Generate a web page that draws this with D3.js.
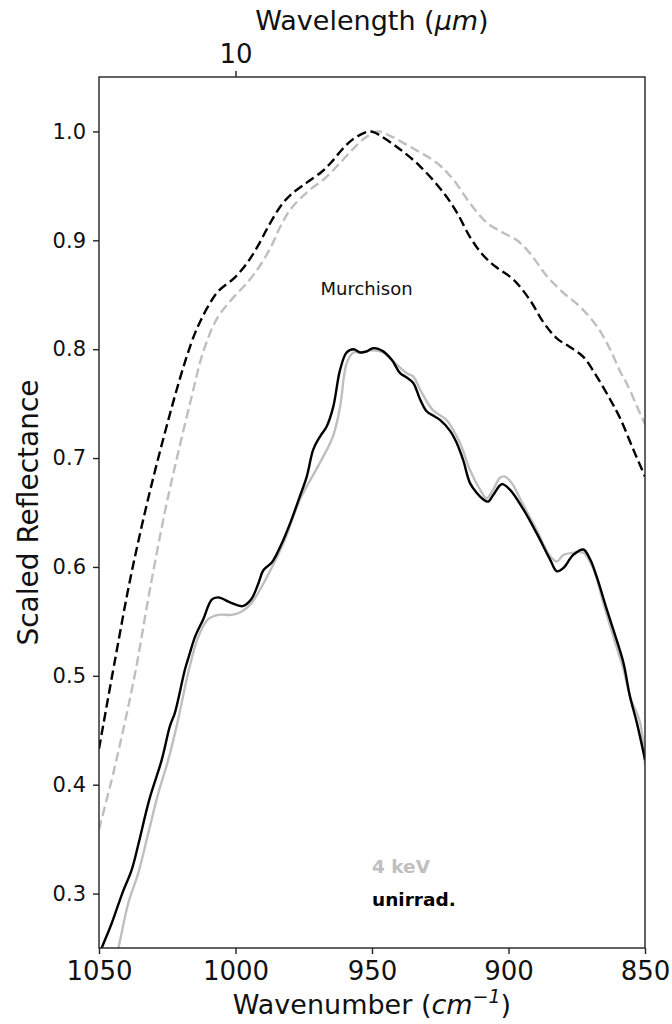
<!DOCTYPE html>
<html>
<head>
<meta charset="utf-8">
<script src="https://cdn.jsdelivr.net/npm/d3@7"></script>
<style>
  html, body { margin: 0; padding: 0; background: #fff; }
  svg { display: block; font-family: "DejaVu Sans", sans-serif; }
</style>
</head>
<body>
<svg id="chart" width="672" height="1024"></svg>
<script>
// Scaled reflectance spectra, [wavenumber (cm^-1), scaled reflectance]
const upperUnirrad = [
  [1050, 0.433], [1044.1, 0.515], [1038.3, 0.592], [1031, 0.673],
  [1022.2, 0.757], [1017.9, 0.793], [1014.8, 0.815], [1013.0, 0.825], [1010.1, 0.839],
  [1006.4, 0.853], [1000.2, 0.866], [995.8, 0.879], [992.0, 0.894], [987.7, 0.914],
  [983.3, 0.932], [979.7, 0.942], [973.9, 0.953], [968.4, 0.963], [964.8, 0.972],
  [961.1, 0.983], [957.4, 0.992], [952.6, 0.999], [950.5, 1.000], [949.0, 0.999],
  [941.0, 0.986], [932.4, 0.968], [923.9, 0.944], [919.0, 0.926], [914.1, 0.903],
  [909.2, 0.886], [904.3, 0.875], [898.2, 0.864], [892.1, 0.845], [887.3, 0.825],
  [882.3, 0.810], [877.5, 0.802], [872.6, 0.793], [867.7, 0.775], [862.8, 0.754],
  [859.2, 0.737], [854.3, 0.708], [850.0, 0.683]
];
const upper4keV = [
  [1050, 0.359], [1045.3, 0.405], [1041.7, 0.444], [1036.8, 0.502], [1031.3, 0.580],
  [1025.5, 0.655], [1021.0, 0.705], [1016.0, 0.757], [1011.9, 0.797], [1006.8, 0.828],
  [1001.3, 0.846], [995.4, 0.862], [990.7, 0.878], [986.6, 0.896], [983.7, 0.912],
  [979.7, 0.929], [973.4, 0.945], [967.2, 0.957], [962.5, 0.969], [957.3, 0.983],
  [952.6, 0.994], [947.8, 1.000], [943.4, 0.996], [936.1, 0.986], [926.2, 0.971],
  [920.3, 0.956], [914.1, 0.934], [907.9, 0.916], [902.0, 0.907], [896.9, 0.900],
  [892.1, 0.888], [885.9, 0.867], [880.0, 0.852], [873.8, 0.839], [867.6, 0.821],
  [862.8, 0.800], [859.2, 0.780], [856.6, 0.768], [851.8, 0.741], [850.0, 0.731]
];
const lowerUnirrad = [
  [1050, 0.243], [1049.0, 0.250], [1045.3, 0.273], [1041.5, 0.300], [1038.0, 0.322],
  [1035.6, 0.345], [1031.6, 0.386], [1027.0, 0.423], [1024.0, 0.454], [1022.2, 0.466],
  [1018.5, 0.506], [1016.7, 0.521], [1014.8, 0.536], [1011.8, 0.552], [1008.7, 0.570],
  [1006.4, 0.572], [1001.6, 0.567], [997.4, 0.564], [994.3, 0.570], [991.6, 0.585],
  [989.8, 0.597], [986.7, 0.604], [983.7, 0.618], [980.0, 0.640], [976.4, 0.665],
  [973.9, 0.683], [971.5, 0.708], [969.0, 0.720], [966.6, 0.729], [964.2, 0.747],
  [961.7, 0.781], [959.3, 0.797], [956.8, 0.800], [954.4, 0.797], [951.9, 0.798],
  [949.5, 0.801], [945.9, 0.798], [942.7, 0.790], [939.7, 0.778], [937.3, 0.774],
  [934.9, 0.769], [932.4, 0.754], [930.0, 0.743], [926.9, 0.738], [925.1, 0.735],
  [921.4, 0.725], [919.0, 0.714], [916.6, 0.698], [914.1, 0.677], [911.6, 0.668],
  [909.2, 0.662], [907.5, 0.660], [905.6, 0.666], [902.5, 0.676], [899.5, 0.671],
  [894.6, 0.653], [889.7, 0.631], [884.8, 0.607], [882.3, 0.596], [879.9, 0.599],
  [876.3, 0.611], [872.6, 0.616], [870.1, 0.607], [867.7, 0.591], [864.0, 0.561],
  [860.4, 0.533], [857.9, 0.512], [855.5, 0.481], [853.0, 0.457], [850.0, 0.423]
];
const lower4keV = [
  [1044.0, 0.240], [1042.9, 0.250], [1039.3, 0.291], [1035.6, 0.319], [1031.9, 0.356],
  [1028.3, 0.392], [1024.6, 0.423], [1021.0, 0.460], [1017.3, 0.503], [1013.6, 0.536],
  [1010.0, 0.552], [1006.3, 0.556], [1001.4, 0.556], [997.7, 0.559], [994.1, 0.567],
  [990.4, 0.582], [986.6, 0.600], [981.9, 0.625], [976.4, 0.662], [969.0, 0.696],
  [964.3, 0.720], [961.7, 0.747], [959.3, 0.787], [956.8, 0.797], [954.4, 0.797],
  [949.6, 0.799], [946.0, 0.797], [942.3, 0.789], [937.3, 0.778], [934.9, 0.775],
  [932.4, 0.763], [927.7, 0.744], [922.7, 0.735], [917.8, 0.714], [914.1, 0.689],
  [910.4, 0.671], [908.0, 0.663], [905.6, 0.671], [903.1, 0.682], [901.3, 0.683],
  [898.8, 0.677], [894.6, 0.657], [889.7, 0.634], [884.8, 0.610], [882.3, 0.605],
  [879.9, 0.611], [876.3, 0.613], [872.6, 0.613], [868.9, 0.598], [865.3, 0.567],
  [861.6, 0.536], [857.9, 0.506], [855.5, 0.481], [851.8, 0.457], [850.0, 0.418]
];

// Axis ticks
const wavenumberTicks = [1050, 1000, 950, 900, 850];
const wavelengthTicks = [10];
const reflectanceTicks = [0.3, 0.4, 0.5, 0.6, 0.7, 0.8, 0.9, 1.0];

const GREY = "#bfbfbf";
const margin = { left: 99, right: 27, top: 77, bottom: 76 };
const width = 672, height = 1024;

const svg = d3.select("#chart");

const x = d3.scaleLinear().domain([1050, 850]).range([margin.left, width - margin.right]);
const y = d3.scaleLinear().domain([0.25, 1.05]).range([height - margin.bottom, margin.top]);

svg.append("defs").append("clipPath").attr("id", "plot-clip")
  .append("rect")
  .attr("x", margin.left).attr("y", margin.top)
  .attr("width", x.range()[1] - x.range()[0])
  .attr("height", y.range()[0] - y.range()[1]);

const line = d3.line()
  .x(d => x(d[0]))
  .y(d => y(d[1]))
  .curve(d3.curveCatmullRom.alpha(0.5));

const plot = svg.append("g").attr("clip-path", "url(#plot-clip)");

const series = [
  { data: upper4keV, color: GREY, dash: "9.5,4.5" },
  { data: upperUnirrad, color: "#000", dash: "9.5,4.5" },
  { data: lower4keV, color: GREY, dash: null },
  { data: lowerUnirrad, color: "#000", dash: null }
];
series.forEach(s => {
  plot.append("path")
    .datum(s.data)
    .attr("fill", "none")
    .attr("stroke", s.color)
    .attr("stroke-width", 2.4)
    .attr("stroke-dasharray", s.dash)
    .attr("stroke-linejoin", "round")
    .attr("d", line);
});

// Frame
svg.append("rect")
  .attr("x", margin.left).attr("y", margin.top)
  .attr("width", x.range()[1] - x.range()[0])
  .attr("height", y.range()[0] - y.range()[1])
  .attr("fill", "none").attr("stroke", "#222").attr("stroke-width", 1.4);

function styleAxis(g, size) {
  g.select(".domain").remove();
  g.selectAll(".tick line").attr("stroke", "#222").attr("stroke-width", 1.4);
  g.selectAll(".tick text")
    .attr("fill", "#111")
    .attr("font-family", "DejaVu Sans, sans-serif")
    .attr("font-size", size);
}

// Bottom: wavenumber
svg.append("g")
  .attr("transform", `translate(0,${y.range()[0]})`)
  .call(d3.axisBottom(x).tickValues(wavenumberTicks).tickSize(6).tickPadding(8).tickFormat(d3.format("d")))
  .call(g => styleAxis(g, 26));

// Top: wavelength in micrometres (lambda = 1e4 / wavenumber)
svg.append("g")
  .attr("transform", `translate(0,${y.range()[1]})`)
  .call(d3.axisTop(x)
    .tickValues(wavelengthTicks.map(l => 1e4 / l))
    .tickSize(6).tickPadding(8)
    .tickFormat(wn => d3.format("d")(Math.round(1e4 / wn))))
  .call(g => styleAxis(g, 26));

// Left: scaled reflectance
svg.append("g")
  .attr("transform", `translate(${margin.left},0)`)
  .call(d3.axisLeft(y).tickValues(reflectanceTicks).tickSize(6).tickPadding(7).tickFormat(d3.format(".1f")))
  .call(g => styleAxis(g, 21));

// Axis titles
const bottomTitle = svg.append("text")
  .attr("x", (x.range()[0] + x.range()[1]) / 2)
  .attr("y", 1014)
  .attr("text-anchor", "middle")
  .attr("font-size", 27)
  .attr("fill", "#111");
bottomTitle.append("tspan").text("Wavenumber (");
bottomTitle.append("tspan").attr("font-style", "italic").text("cm");
bottomTitle.append("tspan").attr("font-style", "italic").attr("font-size", 19).attr("dy", -11).text("\u22121");
bottomTitle.append("tspan").attr("dy", 11).text(")");

const topTitle = svg.append("text")
  .attr("x", (x.range()[0] + x.range()[1]) / 2)
  .attr("y", 30)
  .attr("text-anchor", "middle")
  .attr("font-size", 27)
  .attr("fill", "#111");
topTitle.append("tspan").text("Wavelength (");
topTitle.append("tspan").attr("font-style", "italic").text("\u03bcm");
topTitle.append("tspan").text(")");

svg.append("text")
  .attr("transform", `translate(38,${(y.range()[0] + y.range()[1]) / 2}) rotate(-90)`)
  .attr("text-anchor", "middle")
  .attr("font-size", 28)
  .attr("fill", "#111")
  .text("Scaled Reflectance");

// Annotations
svg.append("text")
  .attr("x", x(952)).attr("y", y(0.850))
  .attr("text-anchor", "middle")
  .attr("font-size", 18)
  .attr("fill", "#111")
  .text("Murchison");

svg.append("text")
  .attr("x", x(950)).attr("y", y(0.3193))
  .attr("font-size", 18.5).attr("font-weight", "bold")
  .attr("fill", GREY)
  .text("4 keV");

svg.append("text")
  .attr("x", x(950)).attr("y", y(0.2889))
  .attr("font-size", 18.5).attr("font-weight", "bold")
  .attr("fill", "#000")
  .text("unirrad.");
</script>
</body>
</html>
